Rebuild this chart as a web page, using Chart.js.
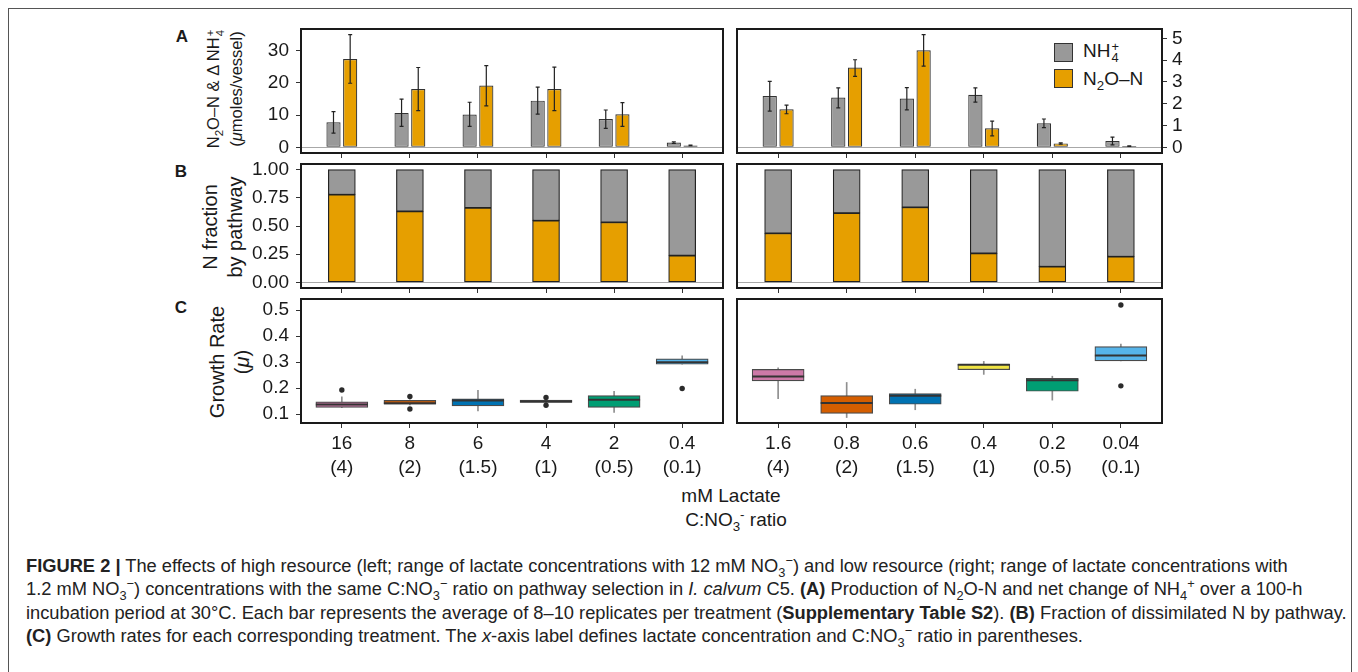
<!DOCTYPE html>
<html>
<head>
<meta charset="utf-8">
<script src="https://cdn.jsdelivr.net/npm/chart.js@4.4.1/dist/chart.umd.min.js"></script>
<style>
  body { margin: 0; width: 1358px; height: 672px; overflow: hidden; position: relative; background: #fff;
         font-family: "Liberation Sans", Arial, sans-serif; color: #1a1a1a; }
  canvas { position: absolute; }
  .outer { position: absolute; left: 8px; top: 8px; width: 1342px; height: 720px; border: 1px solid #555; }
  .tag { position: absolute; font-weight: bold; font-size: 17px; transform: translate(-50%, -50%); }
  .ytitle { position: absolute; transform: translate(-50%, -50%) rotate(-90deg); text-align: center; white-space: nowrap; }
  .ytitle div { display: block; }
  .xtitle { position: absolute; transform: translate(-50%, -50%); white-space: nowrap; font-size: 19px; }
  sub, sup { font-size: 0.7em; line-height: 0; }
  .ss { display: inline-block; vertical-align: -0.42em; line-height: 0.9em; font-size: 0.68em; margin-left: 1px; text-align: left; }
  .ss span { display: block; }
  .key { position: absolute; width: 17px; height: 17px; border: 1.5px solid #333; }
  .ktext { position: absolute; font-size: 19px; transform: translateY(-50%); white-space: nowrap; }
  #caption { position: absolute; left: 26px; top: 554px; font-size: 18.3px; line-height: 23.3px; white-space: nowrap; color: #222; }
</style>
</head>
<body>
<div class="outer"></div>

<div class="tag" style="left:182px; top:37px;">A</div>
<div class="tag" style="left:181px; top:172px;">B</div>
<div class="tag" style="left:181px; top:308px;">C</div>

<div class="ytitle" style="left:224px; top:89px; font-size:16.5px; line-height:22px;">
  <div>N<sub>2</sub>O&#8211;N &amp; &#916; NH<span class="ss"><span>+</span><span>4</span></span></div>
  <div>(<i>&#956;</i>moles/vessel)</div>
</div>
<div class="ytitle" style="left:223px; top:227px; font-size:20px; line-height:25px;">
  <div>N fraction</div>
  <div>by pathway</div>
</div>
<div class="ytitle" style="left:230px; top:362px; font-size:20px; line-height:25px;">
  <div>Growth Rate</div>
  <div>(<i>&#956;</i>)</div>
</div>

<div class="key" style="left:1054px; top:43px; background:#999999;"></div>
<div class="ktext" style="left:1083px; top:52px;">NH<span class="ss"><span>+</span><span>4</span></span></div>
<div class="key" style="left:1054px; top:69px; background:#E69F00;"></div>
<div class="ktext" style="left:1083px; top:79px;">N<sub>2</sub>O&#8211;N</div>

<div class="xtitle" style="left:731px; top:496px;">mM Lactate</div>
<div class="xtitle" style="left:736px; top:520px;">C:NO<sub>3</sub><sup>-</sup> ratio</div>

<div id="caption">
<b>FIGURE 2 |</b> The effects of high resource (left; range of lactate concentrations with 12 mM NO<sub>3</sub><sup>&#8722;</sup>) and low resource (right; range of lactate concentrations with<br>
1.2 mM NO<sub>3</sub><sup>&#8722;</sup>) concentrations with the same C:NO<sub>3</sub><sup>&#8722;</sup> ratio on pathway selection in <i>I. calvum</i> C5. <b>(A)</b> Production of N<sub>2</sub>O-N and net change of NH<sub>4</sub><sup>+</sup> over a 100-h<br>
incubation period at 30&#176;C. Each bar represents the average of 8&#8211;10 replicates per treatment (<b>Supplementary Table S2</b>). <b>(B)</b> Fraction of dissimilated N by pathway.<br>
<b>(C)</b> Growth rates for each corresponding treatment. The <i>x</i>-axis label defines lactate concentration and C:NO<sub>3</sub><sup>&#8722;</sup> ratio in parentheses.
</div>

<script>
// categories
const xIndex = [0, 1, 2, 3, 4, 5];
const leftConc = ['16', '8', '6', '4', '2', '0.4'];
const rightConc = ['1.6', '0.8', '0.6', '0.4', '0.2', '0.04'];
const ratioLabels = ['(4)', '(2)', '(1.5)', '(1)', '(0.5)', '(0.1)'];

// A - high resource (left axis, umoles/vessel)
const nh4High = [7.8, 10.7, 10.2, 14.5, 8.8, 1.5];
const nh4HighLo = [4.4, 6.5, 6.5, 10.3, 5.9, 1.25];
const nh4HighHi = [11.1, 15.0, 14.0, 18.7, 11.6, 1.75];
const n2oHigh = [27.4, 18.1, 19.2, 18.1, 10.3, 0.6];
const n2oHighLo = [19.9, 11.4, 12.9, 11.4, 6.5, 0.5];
const n2oHighHi = [35.0, 24.8, 25.4, 24.9, 13.9, 0.7];

// A - low resource (right axis)
const nh4Low = [2.35, 2.29, 2.24, 2.41, 1.10, 0.29];
const nh4LowLo = [1.66, 1.81, 1.72, 2.07, 0.90, 0.11];
const nh4LowHi = [3.03, 2.73, 2.74, 2.73, 1.30, 0.47];
const n2oLow = [1.75, 3.66, 4.45, 0.87, 0.18, 0.06];
const n2oLowLo = [1.54, 3.26, 3.73, 0.53, 0.15, 0.04];
const n2oLowHi = [1.94, 4.02, 5.17, 1.20, 0.21, 0.07];

// B - fraction by pathway
const n2oFracHigh = [0.778, 0.63, 0.66, 0.547, 0.533, 0.237];
const nh4FracHigh = [0.222, 0.37, 0.34, 0.453, 0.467, 0.763];
const n2oFracLow = [0.435, 0.615, 0.666, 0.257, 0.139, 0.228];
const nh4FracLow = [0.565, 0.385, 0.334, 0.743, 0.861, 0.772];

// C - growth rate boxplots
const boxColors = ['#CC79A7', '#D55E00', '#0072B2', '#F0E442', '#009E73', '#56B4E9'];
const growHighLo  = [0.125, 0.136, 0.112, 0.144, 0.107, 0.292];
const growHighQ1  = [0.126, 0.138, 0.132, 0.145, 0.126, 0.292];
const growHighMed = [0.137, 0.142, 0.153, 0.149, 0.155, 0.300];
const growHighQ3  = [0.147, 0.153, 0.159, 0.154, 0.171, 0.313];
const growHighHi  = [0.167, 0.155, 0.192, 0.155, 0.188, 0.324];
const growHighOut = [[0.193], [0.168, 0.120], [], [0.164, 0.134], [], [0.199]];

const growLowLo  = [0.160, 0.087, 0.117, 0.253, 0.154, 0.305];
const growLowQ1  = [0.228, 0.103, 0.138, 0.271, 0.188, 0.305];
const growLowMed = [0.245, 0.143, 0.171, 0.290, 0.230, 0.326];
const growLowQ3  = [0.272, 0.171, 0.179, 0.292, 0.238, 0.360];
const growLowHi  = [0.278, 0.222, 0.196, 0.303, 0.246, 0.370];
const growLowOut = [[], [], [], [], [], [0.520, 0.209]];

Chart.defaults.font.family = '"Liberation Sans", Arial, sans-serif';
Chart.defaults.color = '#1a1a1a';

// panel frames (pixel boxes of the plotting areas)
const COL = { L: [301, 723], R: [737, 1162] };
const ROW = { A: [29, 153], B: [164, 288], C: [299, 423] };
const PAD = 14, YW = 62, YWR = 42;

const frame = {
  id: 'frame',
  afterDraw(chart) {
    const a = chart.chartArea, ctx = chart.ctx;
    ctx.save();
    ctx.strokeStyle = '#1a1a1a';
    ctx.lineWidth = 2;
    ctx.strokeRect(a.left, a.top, a.right - a.left, a.bottom - a.top);
    ctx.restore();
  }
};

const errorBars = {
  id: 'errorBars',
  afterDatasetsDraw(chart) {
    const ctx = chart.ctx, y = chart.scales.y;
    ctx.save();
    ctx.strokeStyle = '#222';
    ctx.lineWidth = 1.2;
    chart.data.datasets.forEach((ds, i) => {
      if (!ds.errLo) return;
      chart.getDatasetMeta(i).data.forEach((bar, j) => {
        const top = y.getPixelForValue(ds.errHi[j]);
        const bot = y.getPixelForValue(ds.errLo[j]);
        ctx.beginPath();
        ctx.moveTo(bar.x, top); ctx.lineTo(bar.x, bot);
        ctx.moveTo(bar.x - 2, top); ctx.lineTo(bar.x + 2, top);
        ctx.moveTo(bar.x - 2, bot); ctx.lineTo(bar.x + 2, bot);
        ctx.stroke();
      });
    });
    ctx.restore();
  }
};

const medianLines = {
  id: 'medianLines',
  afterDatasetsDraw(chart) {
    const ctx = chart.ctx, y = chart.scales.y;
    ctx.save();
    ctx.strokeStyle = '#333';
    ctx.lineWidth = 2;
    chart.data.datasets.forEach((ds, i) => {
      if (!ds.medians) return;
      chart.getDatasetMeta(i).data.forEach((bar, j) => {
        const py = y.getPixelForValue(ds.medians[j]);
        ctx.beginPath();
        ctx.moveTo(bar.x - bar.width / 2, py);
        ctx.lineTo(bar.x + bar.width / 2, py);
        ctx.stroke();
      });
    });
    ctx.restore();
  }
};

function xAxis(labelFn, height, stacked) {
  return {
    type: 'linear', min: -0.6, max: 5.6, offset: false, stacked: stacked,
    afterBuildTicks: s => { s.ticks = xIndex.map(v => ({ value: v })); },
    afterFit: s => { s.height = height; s.paddingLeft = 0; s.paddingRight = 0; },
    border: { display: false },
    grid: { drawOnChartArea: false, drawTicks: true, tickLength: 5, tickColor: '#333', offset: false },
    ticks: {
      display: !!labelFn, padding: 3, maxRotation: 0, autoSkip: false,
      font: { size: 19, lineHeight: 1.3 }, color: '#1a1a1a',
      callback: v => labelFn ? labelFn(v) : ''
    }
  };
}

function yAxis(cfg) {
  const pos = cfg.yPos;
  return {
    type: 'linear', position: pos === 'right' ? 'right' : 'left',
    min: cfg.yMin, max: cfg.yMax, stacked: !!cfg.stacked,
    display: pos !== 'none' || !!cfg.zeroLine,
    afterBuildTicks: s => { s.ticks = cfg.yTicks.map(v => ({ value: v })); },
    afterFit: s => {
      s.width = pos === 'left' ? YW : pos === 'right' ? YWR : 0;
      s.paddingTop = 0; s.paddingBottom = 0;
    },
    border: { display: false },
    grid: {
      color: ctx => (cfg.zeroLine && ctx.tick && ctx.tick.value === 0) ? '#a8a8a8' : 'rgba(0,0,0,0)',
      lineWidth: 1, drawTicks: pos !== 'none', tickLength: 5, tickColor: '#333'
    },
    ticks: {
      display: pos !== 'none', padding: pos === 'right' ? 5 : 7, autoSkip: false,
      font: { size: 19 }, color: '#1a1a1a',
      callback: v => cfg.yFmt ? cfg.yFmt(v) : String(v)
    }
  };
}

function panel(col, row, cfg) {
  const [x0, x1] = COL[col], [y0, y1] = ROW[row];
  const bottom = cfg.xLabels ? 66 : 8;
  const padL = cfg.yPos === 'left' ? YW : PAD;
  const padR = cfg.yPos === 'right' ? YWR : PAD;
  const c = document.createElement('canvas');
  c.width = x1 - x0 + padL + padR;
  c.height = y1 - y0 + PAD + bottom;
  c.style.left = (x0 - padL) + 'px';
  c.style.top = (y0 - PAD) + 'px';
  document.body.appendChild(c);
  return new Chart(c, {
    type: 'bar',
    data: { datasets: cfg.datasets },
    options: {
      responsive: false,
      animation: false,
      layout: { padding: { left: cfg.yPos === 'left' ? 0 : PAD, right: cfg.yPos === 'right' ? 0 : PAD, top: PAD, bottom: 0 } },
      plugins: { legend: { display: false }, tooltip: { enabled: false } },
      scales: {
        x: xAxis(cfg.xLabels, bottom, !!cfg.stacked),
        y: yAxis(cfg)
      }
    },
    plugins: [frame, errorBars, medianLines]
  });
}

const barStyle = { borderColor: '#333', borderWidth: 1.2, borderSkipped: false, categoryPercentage: 0.49, barPercentage: 0.85 };
const pts = arr => xIndex.map(i => ({ x: i, y: arr[i] }));

function barSets(nh4, nh4Lo, nh4Hi, n2o, n2oLo, n2oHi) {
  return [
    Object.assign({ label: 'NH4+', data: pts(nh4), backgroundColor: '#999999', errLo: nh4Lo, errHi: nh4Hi }, barStyle),
    Object.assign({ label: 'N2O-N', data: pts(n2o), backgroundColor: '#E69F00', errLo: n2oLo, errHi: n2oHi }, barStyle)
  ];
}

function fracSets(n2oF, nh4F) {
  const st = { borderColor: '#222', borderWidth: 1.2, borderSkipped: false, barThickness: 27 };
  return [
    Object.assign({ label: 'N2O-N', data: pts(n2oF), backgroundColor: '#E69F00' }, st),
    Object.assign({ label: 'NH4+', data: pts(nh4F), backgroundColor: '#999999' }, st)
  ];
}

function boxSets(lo, q1, med, q3, hi, out) {
  const outPts = [];
  xIndex.forEach(i => out[i].forEach(v => outPts.push({ x: i, y: v })));
  return [
    { type: 'bar', label: 'box', grouped: false, barThickness: 52, order: 2,
      data: xIndex.map(i => ({ x: i, y: [q1[i], q3[i]] })),
      backgroundColor: boxColors, borderColor: '#4a4a4a', borderWidth: 1.2, borderSkipped: false, medians: med },
    { type: 'bar', label: 'whisker', grouped: false, barThickness: 1, order: 3,
      data: xIndex.map(i => ({ x: i, y: [lo[i], hi[i]] })),
      backgroundColor: '#8f8f8f', borderWidth: 0 },
    { type: 'scatter', label: 'outlier', order: 1, data: outPts,
      pointRadius: 2.7, pointBackgroundColor: '#2b2b2b', pointBorderWidth: 0 }
  ];
}

const fmt2 = v => v.toFixed(2);
const fmt1 = v => v.toFixed(1);

panel('L', 'A', { yPos: 'left', yMin: -1.75, yMax: 36.75, yTicks: [0, 10, 20, 30], zeroLine: true,
  datasets: barSets(nh4High, nh4HighLo, nh4HighHi, n2oHigh, n2oHighLo, n2oHighHi) });
panel('R', 'A', { yPos: 'right', yMin: -0.26, yMax: 5.43, yTicks: [0, 1, 2, 3, 4, 5], zeroLine: true,
  datasets: barSets(nh4Low, nh4LowLo, nh4LowHi, n2oLow, n2oLowLo, n2oLowHi) });

panel('L', 'B', { yPos: 'left', yMin: -0.05, yMax: 1.05, yTicks: [0, 0.25, 0.5, 0.75, 1], yFmt: fmt2,
  zeroLine: true, stacked: true, datasets: fracSets(n2oFracHigh, nh4FracHigh) });
panel('R', 'B', { yPos: 'none', yMin: -0.05, yMax: 1.05, yTicks: [0], zeroLine: true, stacked: true,
  datasets: fracSets(n2oFracLow, nh4FracLow) });

panel('L', 'C', { yPos: 'left', yMin: 0.066, yMax: 0.543, yTicks: [0.1, 0.2, 0.3, 0.4, 0.5], yFmt: fmt1,
  xLabels: v => [leftConc[v], ratioLabels[v]],
  datasets: boxSets(growHighLo, growHighQ1, growHighMed, growHighQ3, growHighHi, growHighOut) });
panel('R', 'C', { yPos: 'none', yMin: 0.066, yMax: 0.543, yTicks: [],
  xLabels: v => [rightConc[v], ratioLabels[v]],
  datasets: boxSets(growLowLo, growLowQ1, growLowMed, growLowQ3, growLowHi, growLowOut) });
</script>
</body>
</html>
